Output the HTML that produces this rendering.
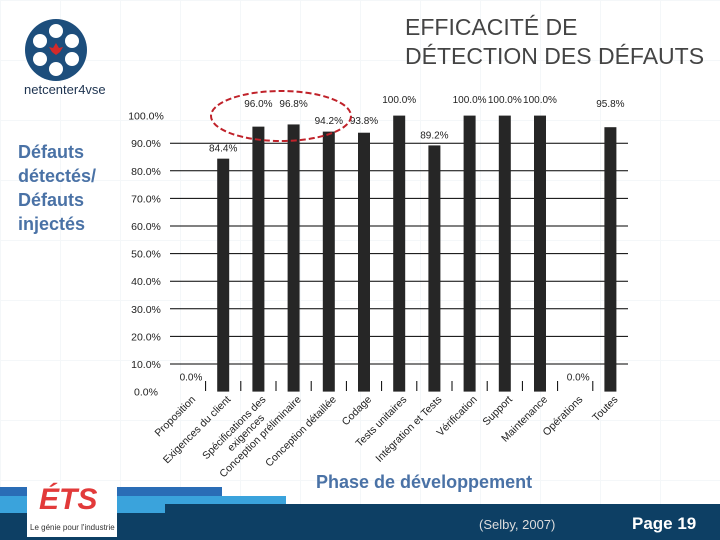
<!DOCTYPE html>
<html><head><meta charset="utf-8"><style>
body{margin:0;width:720px;height:540px;overflow:hidden;background:#fff;font-family:"Liberation Sans",sans-serif;position:relative}
.abs{position:absolute}
</style></head><body>
<div class="abs" style="left:0;top:0;width:720px;height:540px;background-image:linear-gradient(#eef2f6 1px,transparent 1px),linear-gradient(90deg,#eef2f6 1px,transparent 1px);background-size:60px 60px;opacity:.6"></div>
<svg class="abs" style="left:20px;top:14px" width="110" height="86">
<circle cx="36" cy="36" r="31" fill="#1d4e7c"/>
<circle cx="36" cy="17" r="7" fill="#fff"/><circle cx="52" cy="27" r="7" fill="#fff"/><circle cx="52" cy="45" r="7" fill="#fff"/>
<circle cx="36" cy="55" r="7" fill="#fff"/><circle cx="20" cy="45" r="7" fill="#fff"/><circle cx="20" cy="27" r="7" fill="#fff"/>
<polygon points="36,29 39,34 43,33 40,38 36,41 32,38 29,33 33,34" fill="#d42a2a"/>
<text x="4" y="80" font-size="13" fill="#1d3350" font-family="Liberation Sans, sans-serif">netcenter4vse</text>
</svg>
<div class="abs" style="left:405px;top:13px;font-size:23px;line-height:29px;color:#444">EFFICACITÉ DE<br>DÉTECTION DES DÉFAUTS</div>
<div class="abs" style="left:18px;top:140px;font-size:18px;line-height:24px;font-weight:bold;color:#4a72a6">Défauts<br>détectés/<br>Défauts<br>injectés</div>
<svg class="abs" id="chart" style="left:0;top:0" width="720" height="540"></svg>
<div class="abs" style="left:316px;top:472px;font-size:18px;font-weight:bold;color:#4a72a6">Phase de développement</div>
<div class="abs" style="left:0;top:487px;width:222px;height:9px;background:#2a6db6"></div>
<div class="abs" style="left:0;top:496px;width:286px;height:8px;background:#3aa3dc"></div>
<div class="abs" style="left:0;top:504px;width:165px;height:9px;background:#3aa3dc"></div>
<div class="abs" style="left:165px;top:504px;width:555px;height:36px;background:#0d3f64"></div>
<div class="abs" style="left:0;top:513px;width:165px;height:27px;background:#0d3f64"></div>
<div class="abs" style="left:27px;top:483px;width:90px;height:54px;background:#fff">
<div style="position:absolute;left:12px;top:0;font-size:30px;font-weight:bold;font-style:italic;color:#e23a3a">ÉTS</div>
<div style="position:absolute;left:3px;top:40px;font-size:8px;color:#333;white-space:nowrap">Le génie pour l'industrie</div></div>
<div class="abs" style="left:479px;top:517px;font-size:13px;color:#ddd">(Selby, 2007)</div>
<div class="abs" style="left:632px;top:514px;font-size:17px;font-weight:bold;color:#fff">Page 19</div>
<script>
const categories=["Proposition","Exigences du client","Spécifications des|exigences","Conception préliminaire","Conception détaillée","Codage","Tests unitaires","Intégration et Tests","Vérification","Support","Maintenance","Opérations","Toutes"];
const values=[0,84.4,96.0,96.8,94.2,93.8,100,89.2,100,100,100,0,95.8];
const valueLabels=["0.0%","84.4%","96.0%","96.8%","94.2%","93.8%","100.0%","89.2%","100.0%","100.0%","100.0%","0.0%","95.8%"];
const yTicks=[0,10,20,30,40,50,60,70,80,90,100];
const NS="http://www.w3.org/2000/svg";
const svg=document.getElementById('chart');
const y=v=>391.6-2.76*v;
const x=i=>188+35.2*i;
function mk(t,a){const e=document.createElementNS(NS,t);for(const k in a)e.setAttribute(k,a[k]);svg.appendChild(e);return e;}
yTicks.forEach(t=>{
 if(t>0&&t<100){const l=mk('line',{x1:170,x2:628,y1:y(t),y2:y(t),stroke:'#000','stroke-width':1});
 
 }
 const tx=mk('text',{x:146,y:y(t)+4,'font-size':10.5,fill:'#222','text-anchor':'middle'});
 tx.textContent=t.toFixed(1)+'%';
 
 
});
categories.forEach((c,i)=>{
 const cx=x(i);
 if(i>0){const tk=mk('line',{x1:cx-17.6,x2:cx-17.6,y1:381,y2:391,stroke:'#000'});
 
 }
 if(values[i]>0){const b=mk('rect',{x:cx-6,y:y(values[i]),width:12,height:y(0)-y(values[i]),fill:'#262626'});
 
 }
 const vl=mk('text',{x:cx-(values[i]>0?0:-3),y:(values[i]>0?Math.min(y(values[i])-8,107+(values[i]<97&&values[i]>93?0:-4)):y(4)),'font-size':10,fill:'#222','text-anchor':'middle'});
 if(values[i]>0&&values[i]<90)vl.setAttribute('y',y(values[i])-7);
 if(values[i]>=94&&values[i]<95||values[i]>93&&values[i]<94)vl.setAttribute('y',124);
 vl.textContent=valueLabels[i];
 
 
 const parts=c.split('|');
 const g=mk('text',{transform:`translate(${cx+8},400) rotate(-45)`,'font-size':10.5,fill:'#222','text-anchor':'end'});
 
 
 parts.forEach((p,j)=>{const s=document.createElementNS(NS,'tspan');s.setAttribute('x',j?-14:0);s.setAttribute('dy',j?12:0);s.textContent=p;g.appendChild(s);});
});
const el=mk('ellipse',{cx:281,cy:116,rx:70,ry:25,fill:'none',stroke:'#c0222a','stroke-width':2,'stroke-dasharray':'6,3'});


</script>
</body></html>
